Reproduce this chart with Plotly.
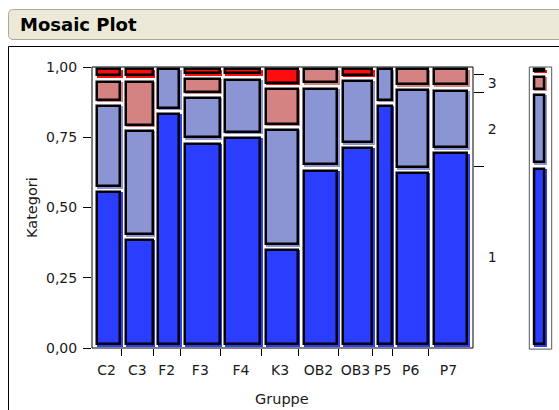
import plotly.graph_objects as go

# ---------------- data ----------------
groups = ['C2', 'C3', 'F2', 'F3', 'F4', 'K3', 'OB2', 'OB3', 'P5', 'P6', 'P7']
group_n = [21, 23, 19, 29, 29, 27, 28, 25, 14, 26, 28]
share_1 = [0.563, 0.392, 0.842, 0.736, 0.757, 0.356, 0.640, 0.719, 0.870, 0.630, 0.701]
share_2 = [0.307, 0.389, 0.158, 0.162, 0.207, 0.429, 0.292, 0.240, 0.130, 0.296, 0.224]
share_3 = [0.087, 0.176, 0.000, 0.067, 0.000, 0.145, 0.068, 0.000, 0.000, 0.074, 0.075]
share_4 = [0.043, 0.043, 0.000, 0.035, 0.036, 0.070, 0.000, 0.041, 0.000, 0.000, 0.000]
category_labels = ['1', '2', '3', '4']
overall_share = [0.647, 0.263, 0.064, 0.026]
right_labels = ['1', '2', '3']
y_tick_vals = [0, 0.25, 0.5, 0.75, 1.0]
y_tick_text = ['0,00', '0,25', '0,50', '0,75', '1,00']
x_title = 'Gruppe'
y_title = 'Kategori'
title_text = 'Mosaic Plot'

# ---------------- style ----------------
cat_colors = ['#2B3DFF', '#8C95D3', '#D48282', '#FF0D0D']
FONT = 'DejaVu Sans'
FIG_W, FIG_H = 559, 410
ML, MR, MT, MB = 92, 6, 67, 62
PW = FIG_W - ML - MR
PH = FIG_H - MT - MB
FRAME_R = 473
COLS_R = 468
MARG_L, MARG_R = 529.3, 551.7
LW = 2.5

shares = [share_1, share_2, share_3, share_4]
N = sum(group_n)
x_per_px = N / (COLS_R - ML)
x_max = (FRAME_R - ML) * x_per_px


def px_to_x(px):
    return (px - ML) * x_per_px


def px_to_x2(px):
    return (px - MARG_L) / (MARG_R - MARG_L)


def v_to_py(v):
    return MT + (1 - v) * PH


def py_to_v(py):
    return (MT + PH - py) / PH


def paper_x(px):
    return (px - ML) / PW


def paper_y(py):
    return (FIG_H - MB - py) / PH


def add_cell(store, Lpx, Rpx, lo, hi, color, conv):
    hiP, loP = v_to_py(hi), v_to_py(lo)
    ox0, ox1 = Lpx + 3.5, Rpx + 0.3
    oy0, oy1 = hiP + 1.2, loP - 2.5
    h = LW / 2
    if oy1 - oy0 < LW + 0.5:
        oy1 = oy0 + LW + 0.5
    rects = {
        'under': (ox0 + 1.3, ox1 + 1.3, oy0 + 1.3, oy1 + 1.3),
        'outline': (ox0 + h, ox1 - h, oy0 + h, oy1 - h),
    }
    for key, (x0, x1, yt, yb) in rects.items():
        d = store[key]
        d['x'].append((conv(x0) + conv(x1)) / 2)
        d['w'].append(conv(x1) - conv(x0))
        d['base'].append(py_to_v(yb))
        d['h'].append(py_to_v(yt) - py_to_v(yb))
        d['c'].append(color)


def new_store():
    return {k: {'x': [], 'w': [], 'base': [], 'h': [], 'c': []} for k in ('under', 'outline')}


main = new_store()
edges = [0]
for n in group_n:
    edges.append(edges[-1] + n)
px_per_n = (COLS_R - ML) / N
for i, g in enumerate(groups):
    Lpx = ML + edges[i] * px_per_n
    Rpx = ML + edges[i + 1] * px_per_n
    lo = 0.0
    for k in range(4):
        s = shares[k][i]
        if s > 0:
            add_cell(main, Lpx, Rpx, lo, lo + s, cat_colors[k], px_to_x)
        lo += s

marg = new_store()
lo = 0.0
for k in range(4):
    s = overall_share[k]
    add_cell(marg, MARG_L + 0.5, MARG_R - 6.0, lo, lo + s, cat_colors[k], px_to_x2)
    lo += s

fig = go.Figure()
for store, xa in ((main, 'x'), (marg, 'x2')):
    u = store['under']
    fig.add_trace(go.Bar(x=u['x'], y=u['h'], base=u['base'], width=u['w'],
                         marker=dict(color=u['c'], line=dict(width=0)),
                         xaxis=xa, yaxis='y', hoverinfo='skip', showlegend=False))
    o = store['outline']
    fig.add_trace(go.Bar(x=o['x'], y=o['h'], base=o['base'], width=o['w'],
                         marker=dict(color=o['c'], line=dict(width=LW, color='#000000')),
                         xaxis=xa, yaxis='y', hoverinfo='skip', showlegend=False))

# empty helper traces so that the overlaying tick axes get drawn
for xa, ya in (('x3', 'y'), ('x', 'y2'), ('x', 'y3')):
    fig.add_trace(go.Scatter(x=[None], y=[None], xaxis=xa, yaxis=ya, mode='markers',
                             hoverinfo='skip', showlegend=False))

centers = [(edges[i] + edges[i + 1]) / 2 for i in range(len(groups))]
cum = []
acc = 0.0
for s in overall_share:
    acc += s
    cum.append(acc)
mids = [(([0.0] + cum)[k] + cum[k]) / 2 for k in range(3)]

tickfont = dict(family=FONT, size=14, color='#1a1a1a')

fig.update_layout(
    width=FIG_W, height=FIG_H,
    margin=dict(l=ML, r=MR, t=MT, b=MB, pad=0),
    paper_bgcolor='white', plot_bgcolor='white',
    barmode='overlay', bargap=0,
    showlegend=False,
    xaxis=dict(domain=[0, (FRAME_R - ML) / PW], range=[0, x_max], anchor='y',
               tickmode='array', tickvals=centers, ticktext=groups,
               ticks='outside', ticklen=9, tickcolor='rgba(0,0,0,0)',
               showline=False, showgrid=False, zeroline=False, tickfont=tickfont,
               fixedrange=True),
    xaxis3=dict(overlaying='x', anchor='y', side='bottom', range=[0, x_max],
                tickmode='array', tickvals=edges[1:-1], ticks='outside', ticklen=7,
                tickcolor='#000000', tickwidth=1, showticklabels=False,
                showline=False, showgrid=False, zeroline=False),
    xaxis2=dict(domain=[paper_x(MARG_L), paper_x(MARG_R)], range=[0, 1], anchor='y',
                visible=False),
    yaxis=dict(domain=[0, 1], range=[0, 1], anchor='x',
               tickmode='array', tickvals=y_tick_vals, ticktext=y_tick_text,
               ticks='outside', ticklen=8, tickcolor='#000000', tickwidth=1,
               ticklabelstandoff=3,
               showline=False, showgrid=False, zeroline=False, tickfont=tickfont),
    yaxis2=dict(overlaying='y', anchor='x', side='right', range=[0, 1],
                tickmode='array', tickvals=cum[:3], ticks='outside', ticklen=10,
                tickcolor='#000000', tickwidth=1, showticklabels=False,
                showline=False, showgrid=False, zeroline=False),
    yaxis3=dict(overlaying='y', anchor='x', side='right', range=[0, 1],
                tickmode='array', tickvals=mids, ticktext=right_labels,
                ticks='outside', ticklen=10, tickcolor='rgba(0,0,0,0)',
                ticklabelstandoff=1,
                showline=False, showgrid=False, zeroline=False, tickfont=tickfont),
)

# title bar (rounded on the left, running off the right edge)
x0, x1 = paper_x(8.5), paper_x(640)
yt, yb = paper_y(9.5), paper_y(39.5)
rx, ry = 5 / PW, 5 / PH
bar_path = (f'M {x0 + rx},{yt} L {x1},{yt} L {x1},{yb} L {x0 + rx},{yb} '
            f'Q {x0},{yb} {x0},{yb + ry} L {x0},{yt - ry} Q {x0},{yt} {x0 + rx},{yt} Z')
shapes = [
    dict(type='path', xref='paper', yref='paper', path=bar_path,
         fillcolor='#ECE9D8', line=dict(color='#ACA899', width=1), layer='below'),
    dict(type='rect', xref='paper', yref='paper', x0=paper_x(8.5), x1=paper_x(640),
         y0=paper_y(46.5), y1=paper_y(480), line=dict(color='#000000', width=1),
         fillcolor='rgba(0,0,0,0)', layer='below'),
    dict(type='rect', xref='x domain', yref='y domain', x0=0, x1=1, y0=0, y1=1,
         line=dict(color='#000000', width=1), fillcolor='rgba(0,0,0,0)', layer='above'),
    dict(type='rect', xref='x2 domain', yref='y domain', x0=0, x1=1, y0=-0.004, y1=1,
         line=dict(color='#555555', width=1), fillcolor='rgba(0,0,0,0)', layer='above'),
]
fig.update_layout(shapes=shapes)

fig.add_annotation(xref='paper', yref='paper', x=paper_x(18), y=paper_y(24.5),
                   xanchor='left', yanchor='middle', showarrow=False,
                   text=f'<b>{title_text}</b>', font=dict(family=FONT, size=18, color='#000000'))
fig.add_annotation(xref='paper', yref='paper', x=paper_x(31.5), y=paper_y(207.5),
                   xanchor='center', yanchor='middle', showarrow=False, textangle=-90,
                   text=y_title, font=dict(family=FONT, size=14.5, color='#1a1a1a'))
fig.add_annotation(xref='paper', yref='paper', x=paper_x(281.5), y=paper_y(399),
                   xanchor='center', yanchor='middle', showarrow=False,
                   text=x_title, font=dict(family=FONT, size=14.5, color='#1a1a1a'))

fig.write_html('out.html', post_script="document.body.style.margin='0';",
               config={'displayModeBar': False})
